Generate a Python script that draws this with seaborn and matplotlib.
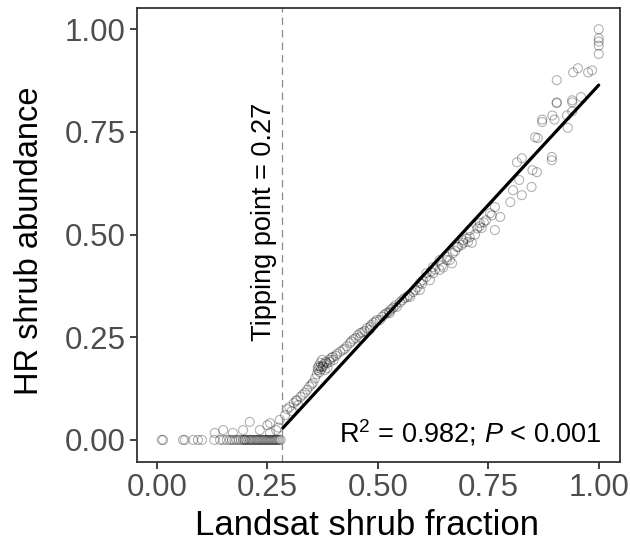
import matplotlib
matplotlib.use("Agg")
import matplotlib.pyplot as plt
import seaborn as sns
import pandas as pd
import numpy as np

# ---- data ----
zero_x = [0.011, 0.014, 0.059, 0.063, 0.082, 0.093, 0.102, 0.13, 0.143, 0.15, 0.158, 0.165,
          0.17, 0.175, 0.18, 0.185, 0.19, 0.195, 0.198, 0.2, 0.203, 0.207, 0.21, 0.213, 0.216,
          0.22, 0.223, 0.226, 0.229, 0.232, 0.235, 0.238, 0.241, 0.244, 0.247, 0.25, 0.253,
          0.256, 0.259, 0.262, 0.265, 0.268, 0.271, 0.274, 0.277, 0.28]
zero_y = [0.0] * len(zero_x)

low_x = [0.131, 0.15, 0.172, 0.195, 0.21, 0.233, 0.25, 0.256, 0.27, 0.256, 0.278, 0.275]
low_y = [0.017, 0.024, 0.017, 0.024, 0.044, 0.024, 0.036, 0.017, 0.024, 0.041, 0.049, 0.03]

ramp_x = [0.29, 0.295, 0.30, 0.305, 0.31, 0.315, 0.317, 0.32, 0.325, 0.33, 0.335, 0.34,
          0.345, 0.35, 0.353, 0.358]
ramp_y = [0.06, 0.075, 0.08, 0.07, 0.09, 0.095, 0.097, 0.085, 0.105, 0.11, 0.115, 0.122,
          0.13, 0.135, 0.139, 0.15]

cluster_x = [0.362, 0.365, 0.368, 0.37, 0.372, 0.375, 0.376, 0.378, 0.38, 0.382, 0.385,
             0.386, 0.39, 0.392, 0.395, 0.398, 0.40, 0.405, 0.408, 0.37, 0.366, 0.374, 0.364]
cluster_y = [0.16, 0.17, 0.165, 0.178, 0.172, 0.18, 0.178, 0.185, 0.17, 0.19, 0.187,
             0.175, 0.195, 0.19, 0.2, 0.202, 0.195, 0.205, 0.21, 0.188, 0.18, 0.195, 0.175]

mid_x = [0.415, 0.421, 0.425, 0.43, 0.437, 0.44, 0.445, 0.45, 0.455, 0.46, 0.46, 0.465,
         0.47, 0.475, 0.482, 0.482, 0.485, 0.49, 0.495, 0.498, 0.505, 0.51, 0.515, 0.52,
         0.525, 0.527, 0.53, 0.535, 0.54, 0.543, 0.55, 0.555, 0.56, 0.566, 0.57, 0.573,
         0.58, 0.585, 0.589, 0.595, 0.595, 0.6, 0.602]
mid_y = [0.215, 0.219, 0.222, 0.228, 0.236, 0.24, 0.245, 0.248, 0.255, 0.25, 0.26, 0.262,
         0.265, 0.272, 0.268, 0.275, 0.28, 0.285, 0.288, 0.292, 0.292, 0.30, 0.305, 0.309,
         0.312, 0.309, 0.318, 0.322, 0.328, 0.324, 0.335, 0.34, 0.345, 0.348, 0.352, 0.348,
         0.36, 0.365, 0.372, 0.365, 0.382, 0.38, 0.389]

upper_x = [0.61, 0.61, 0.618, 0.62, 0.625, 0.625, 0.63, 0.64, 0.64, 0.645, 0.648, 0.656,
           0.657, 0.663, 0.668, 0.67, 0.675, 0.679, 0.682, 0.69, 0.693, 0.693, 0.70, 0.704,
           0.708, 0.708, 0.713, 0.72, 0.725, 0.73, 0.731, 0.735, 0.74, 0.745, 0.754, 0.758,
           0.765, 0.765, 0.777]
upper_y = [0.397, 0.406, 0.389, 0.41, 0.406, 0.421, 0.415, 0.414, 0.438, 0.425, 0.42, 0.438,
           0.445, 0.438, 0.43, 0.455, 0.46, 0.47, 0.47, 0.475, 0.486, 0.48, 0.49, 0.482,
           0.494, 0.511, 0.48, 0.5, 0.515, 0.52, 0.528, 0.516, 0.53, 0.535, 0.552, 0.547,
           0.567, 0.511, 0.543]

top_x = [0.8, 0.806, 0.815, 0.82, 0.826, 0.826, 0.848, 0.85, 0.856, 0.86, 0.862, 0.872,
         0.872, 0.894, 0.894, 0.895, 0.90, 0.905, 0.905, 0.905, 0.928, 0.93, 0.94, 0.94,
         0.94, 0.942, 0.953, 0.96, 0.976, 0.985, 1.0, 1.0, 1.0, 1.0, 1.0]
top_y = [0.579, 0.608, 0.676, 0.633, 0.596, 0.686, 0.616, 0.657, 0.737, 0.652, 0.735, 0.774,
         0.78, 0.689, 0.681, 0.79, 0.78, 0.82, 0.876, 0.822, 0.79, 0.76, 0.822, 0.827,
         0.80, 0.895, 0.905, 0.835, 0.895, 0.90, 1.0, 0.978, 0.97, 0.96, 0.94]

fit_x = [0.285, 1.0]
fit_y = [0.029, 0.864]

tipping_x = 0.284
x_ticks = [0.00, 0.25, 0.50, 0.75, 1.00]
y_ticks = [0.00, 0.25, 0.50, 0.75, 1.00]
tick_labels = ["0.00", "0.25", "0.50", "0.75", "1.00"]

pts = pd.DataFrame({
    "x": zero_x + low_x + ramp_x + cluster_x + mid_x + upper_x + top_x,
    "y": zero_y + low_y + ramp_y + cluster_y + mid_y + upper_y + top_y,
})
fit = pd.DataFrame({"x": fit_x, "y": fit_y})

# ---- drawing ----
sns.set_style("white")
plt.rcParams["font.family"] = ["Liberation Sans", "DejaVu Sans"]
plt.rcParams["mathtext.fontset"] = "custom"
plt.rcParams["mathtext.rm"] = "Liberation Sans"
plt.rcParams["mathtext.it"] = "Liberation Sans:italic"

fig = plt.figure(figsize=(6.3, 5.46), dpi=100)
ax = fig.add_axes([0.2175, 0.1544, 0.7665, 0.8304])

sns.scatterplot(data=pts, x="x", y="y", ax=ax, marker="o", s=42,
                facecolor="none", edgecolor=(0, 0, 0, 0.3), linewidth=0.8)
sns.lineplot(data=fit, x="x", y="y", ax=ax, color="black", linewidth=2.3)
ax.axvline(tipping_x, color="#8c8c8c", linestyle=(0, (6, 4)), linewidth=0.9)

ax.text(0.243, 0.53, "Tipping point = 0.27", rotation=90, ha="center", va="center",
        fontsize=19.5, color="black")
ax.text(1.007, -0.006, r"R$^2$ = 0.982; $P$ < 0.001", ha="right", va="baseline",
        fontsize=19.5, color="black")

ax.set_xlim(-0.045, 1.048)
ax.set_ylim(-0.053, 1.051)
ax.set_xticks(x_ticks)
ax.set_xticklabels(tick_labels)
ax.set_yticks(y_ticks)
ax.set_yticklabels(tick_labels)
ax.tick_params(axis="both", length=5, width=1.3, color="#333333", labelsize=22.5,
               labelcolor="#4d4d4d", pad=3, bottom=True, left=True)
for sp in ax.spines.values():
    sp.set_color("#333333")
    sp.set_linewidth(1.3)
ax.set_xlabel("Landsat shrub fraction", fontsize=25, color="black")
ax.set_ylabel("HR shrub abundance", fontsize=23.5, color="black")
ax.xaxis.set_label_coords(0.476, -0.105)
ax.yaxis.set_label_coords(-0.19, 0.487)

fig.savefig("out.png", dpi=100)
